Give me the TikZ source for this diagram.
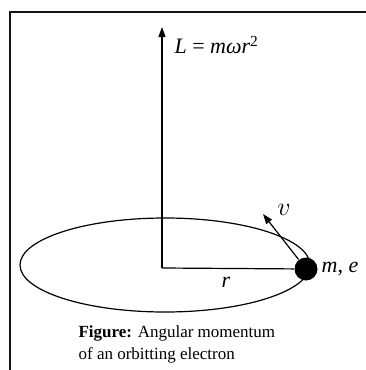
\documentclass[tikz,border=0pt]{standalone}
\usepackage{fontspec}
\setmainfont{Liberation Serif}
\usepackage{xcolor}
\usetikzlibrary{arrows.meta}
\definecolor{tinta}{RGB}{0,0,0}
\definecolor{moldura}{RGB}{20,20,20}

\begin{document}
\begin{tikzpicture}[x=1pt, y=-1pt, line width=1.2pt, draw=tinta,
    vetor/.style={-{Triangle[length=10pt,width=7pt]}},
    rotulo/.style={font=\fontsize{22}{24}\selectfont\itshape, inner sep=0pt}]
    \useasboundingbox (0,0) rectangle (365,370);
    % moldura cortada a direita e embaixo
    \draw[moldura, line width=2.6pt] (10,371) -- (10,12) -- (366,12);
    \draw (165,265) ellipse [x radius=145pt, y radius=47pt];
    \coordinate (origem) at (162,268);
    \coordinate (topo) at (162,27);
    \coordinate (vponta) at (263,214);
    \node[circle, fill=tinta, minimum size=23pt, inner sep=0pt] (eletron) at (306,269) {};
    \draw[vetor] (origem) -- (topo);
    \draw (origem) -- (eletron);
    \draw[vetor] (eletron) -- (vponta);
    \node[rotulo, anchor=west] (momento) at (174,45) {L {\upshape=} mωr\textsuperscript{\upshape 2}};
    \node[rotulo] (vel) at (284,210) {\scalebox{1.25}{$v$}};
    \node[rotulo, anchor=west] (massa) at ([xshift=3pt]eletron.east) {m{\upshape,} e};
    \node[rotulo] (raio) at (226,282) {r};
    \node[anchor=north west, align=left, inner sep=0pt,
          font=\fontsize{17}{22}\selectfont] (legenda) at (78,325)
      {\textbf{Figure:} Angular momentum\\of an orbitting electron};
\end{tikzpicture}
\end{document}
